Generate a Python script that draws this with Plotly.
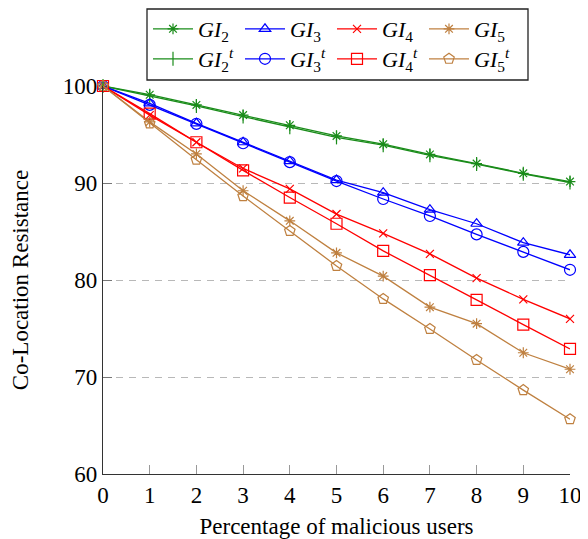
import plotly.graph_objects as go

x_vals = [0, 1, 2, 3, 4, 5, 6, 7, 8, 9, 10]

gi2 = [100, 99.1, 98.05, 97.0, 95.95, 94.85, 94.0, 92.95, 92.0, 91.0, 90.15]
gi3 = [100, 98.2, 96.15, 94.2, 92.25, 90.3, 89.0, 87.25, 85.8, 83.85, 82.6]
gi4 = [100, 97.0, 94.2, 91.5, 89.4, 86.8, 84.8, 82.7, 80.2, 78.0, 76.0]
gi5 = [100, 96.3, 93.0, 89.2, 86.1, 82.8, 80.4, 77.2, 75.5, 72.5, 70.8]
gi2t = [100, 99.0, 97.95, 96.85, 95.75, 94.7, 93.9, 92.85, 91.95, 90.95, 90.05]
gi3t = [100, 98.05, 96.1, 94.1, 92.15, 90.2, 88.35, 86.6, 84.7, 82.9, 81.05]
gi4t = [100, 97.15, 94.2, 91.3, 88.5, 85.8, 83.0, 80.5, 77.95, 75.4, 72.9]
gi5t = [100, 96.15, 92.4, 88.65, 85.05, 81.45, 78.05, 74.95, 71.75, 68.65, 65.65]

names = [
    "<i>GI</i><sub>2</sub>", "<i>GI</i><sub>3</sub>", "<i>GI</i><sub>4</sub>", "<i>GI</i><sub>5</sub>",
    "<i>GI</i><sub>2</sub><sup><i>t</i></sup>", "<i>GI</i><sub>3</sub><sup><i>t</i></sup>",
    "<i>GI</i><sub>4</sub><sup><i>t</i></sup>", "<i>GI</i><sub>5</sub><sup><i>t</i></sup>",
]
series = [gi2, gi3, gi4, gi5, gi2t, gi3t, gi4t, gi5t]

GREEN = "#1a8c1a"
BLUE = "#0000ff"
RED = "#ff0000"
BROWN = "#bf8040"
colors = [GREEN, BLUE, RED, BROWN, GREEN, BLUE, RED, BROWN]
symbols = ["asterisk-open", "triangle-up-open", "x-thin-open", "asterisk-open",
           "line-ns-open", "circle-open", "square-open", "pentagon-open"]
sizes = [9, 10, 8, 9, 10, 11, 11, 11]

FONT = "Liberation Serif"

fig = go.Figure()
for i, (nm, ys) in enumerate(zip(names, series)):
    fig.add_trace(go.Scatter(
        x=x_vals, y=ys, name=nm, mode="lines+markers",
        line=dict(color=colors[i], width=1.3),
        marker=dict(symbol=symbols[i], size=sizes[i], color=colors[i],
                    line=dict(color=colors[i], width=1.2)),
        cliponaxis=False,
        legend="legend" if i < 4 else "legend2",
    ))

# page body has an 8px margin, so the figure is drawn at (8, 8) in the window
OFF = 8
# target plot area in window pixels: x 103..570, y 86..474
W, H = 588 - OFF, 539 - OFF
L, T = 103 - OFF, 86 - OFF
R = 588 - 570
B = 539 - 474
pw, ph = W - L - R, H - T - B

def px_to_paper_x(px):
    return (px - OFF - L) / pw

def px_to_paper_y(py):
    return (H - B - (py - OFF)) / ph

legend_common = dict(
    orientation="h", xanchor="left", yanchor="middle",
    font=dict(family=FONT, size=22, color="black"),
    bgcolor="rgba(0,0,0,0)", borderwidth=0,
    itemwidth=40, entrywidth=37, entrywidthmode="pixels",
    tracegroupgap=0,
)

fig.update_layout(
    width=W, height=H,
    margin=dict(l=L, r=R, t=T, b=B, autoexpand=False),
    paper_bgcolor="white", plot_bgcolor="white",
    font=dict(family=FONT, size=23, color="black"),
    legend=dict(x=px_to_paper_x(148), y=px_to_paper_y(29), **legend_common),
    legend2=dict(x=px_to_paper_x(148), y=px_to_paper_y(59), **legend_common),
    showlegend=True,
    shapes=[dict(type="rect", xref="paper", yref="paper",
                 x0=px_to_paper_x(147), x1=px_to_paper_x(528),
                 y0=px_to_paper_y(80), y1=px_to_paper_y(9),
                 line=dict(color="#222", width=1.3), fillcolor="rgba(0,0,0,0)")],
)

fig.update_xaxes(
    range=[0, 10], tickmode="array", tickvals=x_vals, ticktext=[str(v) for v in x_vals],
    showline=True, linecolor="#333", linewidth=1.3, mirror=False,
    ticks="inside", ticklen=9, tickcolor="#999", tickwidth=1,
    showgrid=False, zeroline=False, automargin=False,
    tickfont=dict(family=FONT, size=23, color="black"),
    title=dict(text="Percentage of malicious users", font=dict(family=FONT, size=23, color="black"),
               standoff=14),
)
fig.update_yaxes(
    range=[60, 100], tickmode="array", tickvals=[60, 70, 80, 90, 100],
    showline=True, linecolor="#333", linewidth=1.3, mirror=False,
    ticks="inside", ticklen=9, tickcolor="#777", tickwidth=1,
    showgrid=True, gridcolor="#b8b8b8", griddash="7px,6px", gridwidth=1,
    zeroline=False, automargin=False,
    tickfont=dict(family=FONT, size=23, color="black"),
    title=dict(text="Co-Location Resistance", font=dict(family=FONT, size=23, color="black"),
               standoff=27),
)

fig.write_html("out.html")
